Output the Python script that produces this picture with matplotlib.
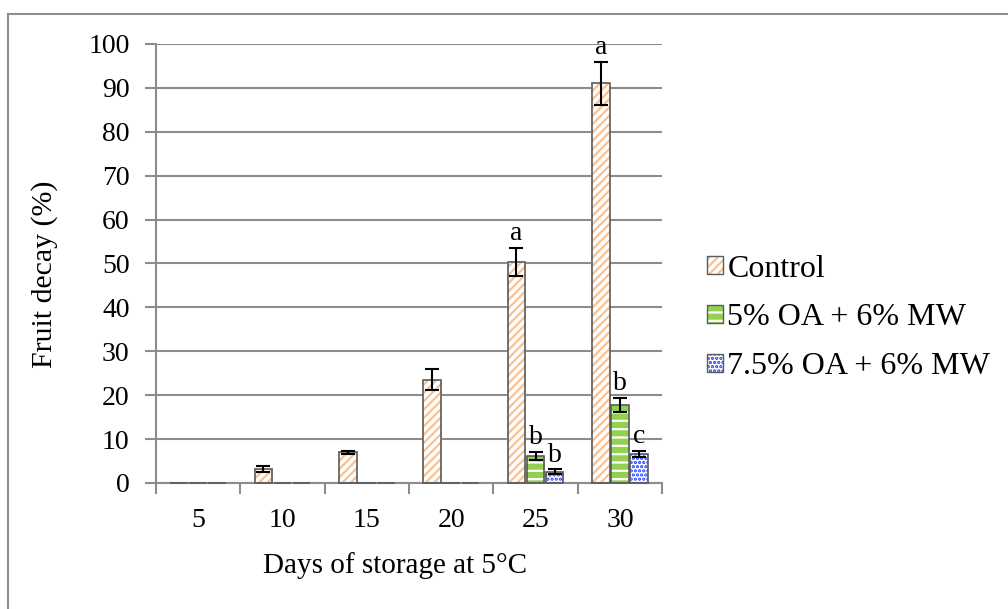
import matplotlib
matplotlib.use('Agg')
import matplotlib.pyplot as plt
from matplotlib.patches import Patch, Rectangle
from matplotlib.legend_handler import HandlerTuple
import numpy as np

# ---------------------------------------------------------------
# data
# ---------------------------------------------------------------
days = ["5", "10", "15", "20", "25", "30"]

control = [0, 3.2, 7.0, 23.5, 50.4, 91.1]
control_err = [0, 0.65, 0.3, 2.4, 3.2, 4.9]

oa5 = [0, 0, 0, 0, 6.2, 17.8]
oa5_err = [0, 0, 0, 0, 0.9, 1.6]

oa75 = [0, 0, 0, 0, 2.6, 6.6]
oa75_err = [0, 0, 0, 0, 0.5, 0.7]

series_names = ["Control", "5% OA + 6% MW", "7.5% OA + 6% MW"]

# significance letters: (series index, day index, letter)
letters = [(0, 4, "a"), (1, 4, "b"), (2, 4, "b"),
           (0, 5, "a"), (1, 5, "b"), (2, 5, "c")]

plt.rcParams['font.family'] = ['Liberation Serif', 'DejaVu Serif']
plt.rcParams['hatch.linewidth'] = 1.6

FS = 20

fig = plt.figure(figsize=(10.08, 6.09), dpi=100)
ax = fig.add_axes([0.1548, 0.2069, 0.5020, 0.7209])

x = np.arange(len(days))
w = 0.226
grey = "#8c8c8c"
outline = "#5a5a5a"

styles = [
    dict(face="white", hatchcol="#FBC08E", hatch="////"),
    dict(face="#92D050", hatchcol="white", hatch="--"),
    dict(face="white", hatchcol="#1F3FFF", hatch="...."),
]
values = [control, oa5, oa75]
errors = [control_err, oa5_err, oa75_err]

for i, (vals, errs, st) in enumerate(zip(values, errors, styles)):
    pos = x + (i - 1) * w
    # hatched fill
    ax.bar(pos, vals, width=w, color=st["face"], edgecolor=st["hatchcol"],
           hatch=st["hatch"], linewidth=0, zorder=2)
    # dark grey outline on top (zero bars show as a short dash)
    ax.bar(pos, vals, width=w * 0.92, fill=False, edgecolor=outline, linewidth=1.2,
           zorder=3, clip_on=False)
    # error bars only where there is an error
    ep = [p for p, e in zip(pos, errs) if e > 0]
    ev = [v for v, e in zip(vals, errs) if e > 0]
    ee = [e for e in errs if e > 0]
    ax.errorbar(ep, ev, yerr=ee, fmt="none", ecolor="black", elinewidth=1.5,
                capsize=5, capthick=1.5, zorder=4)

for si, di, lab in letters:
    top = values[si][di] + errors[si][di]
    ax.text(x[di] + (si - 1) * w, top + 0.4, lab, ha="center", va="bottom",
            fontsize=FS, zorder=5)

ax.set_xlim(-0.5, len(days) - 0.5)
ax.set_ylim(0, 100)
ax.set_yticks(np.arange(0, 101, 10))
ax.set_xticks(x)
ax.set_xticklabels(days)
ax.set_xticks(np.arange(-0.5, len(days), 1), minor=True)
ax.tick_params(axis="x", which="major", length=0, labelsize=FS, pad=18)
ax.tick_params(axis="x", which="minor", length=8, width=1.5, color=grey)
ax.tick_params(axis="y", length=8, width=1.5, color=grey, labelsize=FS, pad=11)

ax.yaxis.grid(True, color=grey, linewidth=1.5, zorder=0)
ax.set_axisbelow(True)
for s in ["top", "right"]:
    ax.spines[s].set_visible(False)
for s in ["left", "bottom"]:
    ax.spines[s].set_color(grey)
    ax.spines[s].set_linewidth(1.5)

ax.set_ylabel("Fruit decay (%)", fontsize=21.5, labelpad=22)
ax.set_xlabel("Days of storage at 5\u00b0C", fontsize=21, labelpad=14)
ax.yaxis.label.set_y(0.475)
ax.xaxis.label.set_x(0.472)

handles = []
for st in styles:
    fillp = Patch(facecolor=st["face"], edgecolor=st["hatchcol"], hatch=st["hatch"],
                  linewidth=0)
    edgep = Patch(fill=False, edgecolor=outline, linewidth=1.0)
    handles.append((fillp, edgep))
fig.legend(handles, series_names, loc="center left",
           handler_map={tuple: HandlerTuple(ndivide=1, pad=0)},
           bbox_to_anchor=(0.701, 0.478), frameon=False, fontsize=23,
           handlelength=0.5, handleheight=0.5, handletextpad=0.15,
           labelspacing=0.62, borderpad=0, borderaxespad=0)

# outer chart frame
fig.patches.append(Rectangle((8 / 1008, -0.1), 1.2, 1.077, transform=fig.transFigure,
                             fill=False, edgecolor=grey, linewidth=1.5))

fig.savefig("out.png", dpi=100)
